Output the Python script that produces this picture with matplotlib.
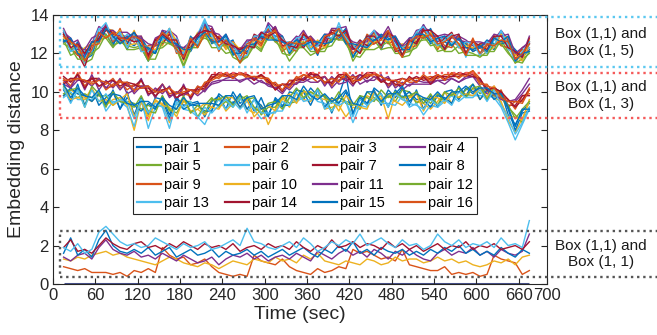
import numpy as np
import matplotlib
matplotlib.use("Agg")
import matplotlib.pyplot as plt
from matplotlib.patches import Rectangle

plt.rcParams['font.family'] = ['Liberation Sans', 'DejaVu Sans']

# sample times (sec) - one reading every 10 s
t_start, t_end = 15, 675

# MATLAB default colour order, pairs 1..16 cycle through it
pair_colors = ['#0072BD', '#D95319', '#EDB120', '#7E2F8E', '#77AC30', '#4DBEEE', '#A2142F']
pair_labels = [f'pair {k}' for k in range(1, 17)]

# ---------------- Box (1,1) and Box (1,5) ----------------
top_p1 = [13.1, 12.1, 12.6, 11.7, 11.9, 13.0, 13.4, 12.5, 13.1, 12.2,
          13.1, 12.3, 11.6, 12.6, 12.7, 13.3, 12.1, 12.1, 12.1, 12.8,
          13.5, 12.5, 12.8, 12.5, 12.7, 11.7, 11.9, 12.9, 12.5, 13.5,
          12.7, 12.7, 12.1, 12.8, 12.4, 12.6, 11.9, 12.9, 13.0, 12.9,
          13.3, 11.8, 12.5, 12.4, 13.1, 12.2, 13.0, 12.8, 11.8, 12.6,
          12.5, 13.4, 12.5, 12.8, 12.6, 12.4, 13.0, 12.0, 12.7, 12.0,
          12.5, 12.2, 13.1, 12.4, 12.1, 11.7, 12.5]
top_p2 = [12.6, 12.6, 12.3, 11.5, 12.6, 12.7, 13.5, 12.7, 12.6, 12.9,
          12.6, 12.9, 12.1, 12.0, 13.0, 12.5, 12.7, 11.8, 12.7, 12.4,
          13.2, 13.2, 12.1, 12.8, 12.1, 12.3, 12.3, 12.3, 13.0, 12.9,
          13.3, 12.1, 12.4, 12.3, 13.1, 12.2, 12.5, 12.4, 12.8, 13.4,
          12.6, 12.3, 12.1, 13.0, 12.7, 12.9, 12.5, 12.7, 12.4, 12.2,
          13.1, 12.9, 13.1, 12.2, 12.8, 12.6, 12.4, 12.6, 12.1, 12.3,
          12.0, 12.9, 12.6, 12.7, 11.5, 12.1, 12.3]
top_p3 = [13.0, 12.7, 11.9, 12.1, 12.2, 12.6, 13.3, 13.2, 12.7, 12.5,
          13.2, 12.2, 12.2, 12.4, 12.4, 13.1, 12.7, 11.6, 12.4, 13.1,
          13.0, 13.0, 12.8, 12.2, 12.5, 12.2, 12.0, 12.7, 12.3, 13.3,
          13.1, 12.8, 11.9, 12.6, 12.5, 12.9, 12.2, 12.3, 13.3, 12.9,
          13.1, 12.5, 12.0, 12.5, 13.0, 12.9, 12.6, 12.3, 12.5, 12.3,
          13.0, 12.8, 13.0, 12.9, 12.1, 12.9, 12.5, 12.5, 12.2, 12.5,
          12.2, 12.8, 12.4, 12.8, 12.0, 11.7, 12.7]
top_p4 = [13.3, 12.5, 12.7, 11.9, 12.5, 13.4, 13.2, 13.2, 12.9, 12.9,
          12.9, 12.9, 11.9, 12.8, 13.0, 13.2, 12.9, 11.9, 12.8, 12.8,
          13.7, 13.1, 13.0, 12.6, 12.6, 12.0, 12.6, 12.8, 12.6, 13.6,
          13.2, 12.9, 12.2, 12.7, 13.2, 12.6, 12.5, 13.0, 13.0, 13.4,
          12.9, 12.6, 12.5, 12.7, 13.2, 12.9, 12.9, 12.9, 12.3, 12.5,
          13.2, 13.3, 13.2, 12.6, 12.9, 12.8, 12.9, 12.7, 12.4, 12.3,
          12.6, 12.7, 13.2, 12.7, 12.1, 11.9, 12.9]
top_p5 = [12.7, 11.9, 12.1, 11.5, 11.7, 12.7, 12.8, 12.3, 12.8, 12.2,
          12.2, 12.3, 11.6, 12.2, 12.3, 12.6, 12.2, 11.3, 12.2, 12.6,
          12.8, 12.6, 12.4, 12.0, 12.1, 11.5, 11.9, 12.5, 12.2, 12.8,
          12.8, 12.0, 11.9, 12.3, 12.3, 11.9, 12.1, 12.3, 12.4, 13.0,
          12.5, 11.9, 11.8, 12.3, 12.7, 12.2, 12.3, 12.3, 11.8, 11.9,
          12.6, 12.7, 12.7, 12.1, 12.2, 12.5, 12.0, 12.1, 12.0, 11.8,
          12.1, 12.1, 12.7, 12.1, 11.5, 11.7, 12.0]
top_p6 = [12.9, 12.2, 12.5, 11.5, 12.4, 13.3, 12.9, 13.0, 12.6, 13.0,
          12.7, 12.7, 12.3, 12.1, 12.9, 12.6, 12.8, 12.0, 12.3, 13.0,
          13.8, 12.8, 12.2, 12.8, 12.4, 11.7, 12.6, 12.3, 12.8, 13.3,
          12.8, 12.6, 12.6, 12.1, 12.9, 12.4, 12.6, 12.7, 12.6, 13.6,
          12.7, 12.3, 12.7, 12.3, 12.9, 12.8, 12.7, 12.8, 12.2, 12.1,
          12.9, 13.5, 12.6, 12.7, 12.8, 12.5, 12.8, 11.8, 12.6, 12.4,
          12.0, 12.7, 13.1, 12.2, 12.0, 12.2, 12.3]
top_p7 = [13.0, 12.7, 12.0, 11.3, 12.5, 12.8, 13.4, 13.0, 12.7, 12.5,
          13.1, 12.6, 11.8, 12.7, 12.5, 13.0, 12.3, 12.3, 12.3, 12.9,
          13.1, 13.3, 12.7, 12.3, 12.6, 12.1, 12.0, 13.0, 12.8, 12.8,
          13.4, 12.4, 12.5, 12.6, 12.3, 12.8, 12.4, 12.4, 13.2, 13.2,
          12.6, 12.2, 12.7, 12.4, 12.5, 12.8, 13.2, 12.1, 12.2, 12.7,
          12.6, 13.3, 13.0, 12.4, 12.8, 13.1, 12.3, 12.3, 12.3, 12.5,
          12.5, 12.4, 13.0, 12.8, 11.7, 12.3, 12.5]
top_p8 = [12.7, 12.5, 12.4, 12.2, 12.0, 13.1, 13.0, 12.4, 13.2, 12.6,
          12.4, 12.8, 12.2, 12.0, 13.2, 12.7, 12.5, 11.7, 12.9, 12.4,
          13.6, 12.7, 12.6, 12.9, 11.9, 12.2, 12.1, 12.4, 13.0, 13.2,
          12.9, 12.9, 12.0, 12.5, 12.9, 12.2, 12.5, 13.0, 12.7, 12.8,
          13.1, 11.8, 12.4, 12.9, 12.6, 13.0, 12.8, 12.6, 11.9, 12.8,
          12.9, 12.8, 13.3, 12.5, 12.3, 12.9, 12.7, 12.5, 12.1, 12.3,
          12.7, 12.5, 12.5, 12.6, 12.2, 11.8, 12.2]
top_p9 = [13.2, 12.3, 11.9, 12.1, 12.4, 12.5, 13.3, 12.6, 13.3, 12.3,
          12.9, 12.1, 12.4, 12.4, 12.6, 13.2, 12.0, 12.2, 12.6, 12.5,
          13.4, 12.6, 12.9, 12.4, 12.5, 11.8, 12.5, 12.7, 12.4, 13.3,
          12.6, 12.8, 12.3, 12.1, 13.0, 12.7, 12.1, 12.7, 13.1, 12.7,
          13.0, 12.4, 12.1, 12.8, 13.1, 12.3, 13.1, 12.2, 12.4, 12.3,
          12.4, 13.2, 12.7, 12.9, 12.4, 12.3, 12.9, 12.0, 12.8, 11.9,
          12.4, 12.9, 12.4, 12.3, 11.9, 12.2, 12.1]
top_p10 = [12.8, 12.6, 12.0, 12.3, 12.5, 12.6, 12.9, 12.9, 13.2, 12.4,
           12.5, 12.5, 12.3, 12.2, 12.6, 13.3, 12.6, 12.1, 12.2, 12.6,
           12.9, 12.8, 12.7, 12.3, 12.6, 12.2, 11.8, 12.8, 12.6, 12.9,
           13.2, 12.2, 12.5, 12.6, 12.6, 12.3, 12.7, 12.3, 12.7, 13.2,
           12.8, 12.3, 12.6, 12.2, 12.6, 12.7, 12.6, 12.8, 12.3, 12.1,
           12.8, 12.9, 13.1, 12.3, 12.7, 13.0, 12.4, 12.4, 12.3, 12.4,
           12.1, 12.3, 13.0, 12.8, 11.9, 11.6, 12.6]
top_p11 = [13.1, 12.8, 12.2, 12.2, 12.8, 13.0, 13.5, 12.8, 13.1, 13.1,
           12.8, 12.8, 12.5, 12.4, 13.2, 13.1, 12.4, 12.3, 12.6, 13.0,
           13.5, 13.4, 12.6, 13.0, 12.3, 12.2, 12.7, 12.7, 13.1, 13.1,
           13.4, 12.6, 12.5, 12.9, 12.7, 12.9, 12.5, 12.6, 13.3, 13.3,
           13.4, 12.2, 12.6, 12.6, 13.2, 12.8, 13.4, 12.6, 12.4, 12.8,
           12.8, 13.5, 12.9, 12.9, 13.0, 12.9, 12.7, 12.6, 12.6, 12.6,
           12.5, 13.0, 12.9, 13.0, 12.0, 12.3, 12.6]
top_p12 = [12.5, 12.3, 11.7, 11.7, 12.0, 12.3, 13.0, 12.4, 12.6, 12.4,
           12.3, 12.4, 11.7, 11.7, 12.6, 12.5, 12.3, 11.4, 12.3, 12.3,
           13.0, 12.3, 12.3, 12.5, 11.8, 11.6, 11.8, 12.4, 12.1, 13.0,
           12.6, 12.3, 11.6, 12.1, 12.6, 12.1, 12.1, 12.1, 12.8, 12.7,
           12.7, 11.6, 12.2, 12.2, 12.2, 12.4, 12.6, 12.0, 12.0, 12.1,
           12.3, 12.9, 12.4, 12.5, 12.1, 12.1, 12.4, 11.9, 11.9, 11.9,
           11.9, 12.5, 12.5, 12.0, 11.6, 11.5, 12.1]
top_p13 = [13.2, 12.1, 12.3, 12.1, 12.1, 13.2, 13.6, 12.7, 13.1, 12.3,
           13.0, 12.1, 12.1, 12.6, 12.7, 13.3, 12.1, 12.0, 12.8, 12.5,
           13.7, 13.0, 12.2, 12.8, 12.5, 11.8, 11.9, 12.9, 12.9, 13.4,
           12.8, 12.8, 12.1, 12.8, 12.9, 12.2, 12.4, 12.9, 12.8, 13.4,
           12.8, 12.4, 12.1, 12.8, 13.2, 12.4, 13.2, 12.4, 12.3, 12.5,
           13.1, 13.4, 12.8, 12.4, 12.7, 13.0, 12.3, 12.6, 12.5, 11.9,
           12.6, 12.4, 13.2, 12.4, 11.6, 12.1, 12.6]
top_p14 = [13.0, 12.3, 12.5, 12.0, 12.6, 12.7, 13.2, 13.1, 12.8, 12.8,
           12.6, 12.7, 11.9, 12.7, 13.0, 12.7, 12.7, 11.7, 12.6, 13.0,
           13.2, 13.1, 12.8, 12.5, 12.4, 12.2, 12.4, 12.3, 13.1, 12.9,
           13.1, 12.7, 12.4, 12.3, 13.0, 12.7, 12.0, 12.8, 13.1, 12.9,
           13.2, 12.3, 12.0, 12.9, 12.9, 12.4, 13.1, 12.8, 11.9, 12.7,
           12.5, 13.2, 13.2, 12.9, 12.2, 12.9, 13.0, 12.0, 12.6, 12.4,
           12.2, 12.9, 12.9, 12.3, 12.1, 11.8, 12.8]
top_p15 = [12.6, 12.8, 12.0, 11.8, 12.6, 12.6, 13.3, 12.9, 12.5, 12.8,
           13.1, 12.4, 12.3, 12.0, 12.9, 12.6, 12.5, 12.2, 12.2, 12.8,
           13.1, 12.6, 12.6, 13.0, 12.0, 12.0, 12.4, 12.5, 12.9, 12.7,
           12.7, 12.6, 12.4, 12.7, 12.4, 12.6, 12.6, 12.5, 12.6, 13.3,
           12.5, 12.5, 12.4, 12.3, 12.7, 12.9, 12.7, 12.9, 12.2, 12.2,
           13.0, 13.0, 12.6, 12.8, 12.9, 12.4, 12.8, 12.3, 12.2, 12.4,
           12.1, 12.8, 12.6, 12.9, 11.6, 12.0, 12.1]
top_p16 = [12.9, 12.6, 12.4, 11.6, 12.2, 13.1, 12.8, 13.1, 12.8, 12.7,
           12.9, 12.7, 11.7, 12.5, 13.1, 12.8, 12.2, 11.8, 12.8, 12.3,
           13.0, 13.1, 12.4, 12.7, 12.2, 11.5, 12.3, 12.8, 12.5, 13.0,
           13.2, 12.3, 12.6, 12.5, 12.5, 12.8, 12.0, 12.9, 13.0, 13.3,
           12.7, 12.0, 12.5, 12.8, 12.5, 12.7, 13.2, 12.3, 11.8, 12.6,
           12.9, 12.8, 13.0, 12.5, 12.6, 12.9, 12.5, 11.9, 12.7, 12.0,
           12.5, 12.4, 12.7, 12.6, 11.7, 12.0, 12.5]

# ---------------- Box (1,1) and Box (1,3) ----------------
mid_p1 = [10.1, 9.5, 10.4, 9.3, 10.2, 9.3, 9.7, 10.0, 9.1, 10.0,
          8.8, 9.7, 8.8, 9.7, 9.6, 8.6, 9.7, 9.3, 9.4, 9.5,
          8.7, 9.5, 9.8, 9.1, 10.0, 9.4, 9.7, 9.0, 9.7, 8.8,
          9.6, 9.2, 10.0, 9.9, 9.6, 10.2, 9.8, 9.8, 8.9, 9.8,
          10.9, 8.8, 9.8, 9.4, 10.1, 9.3, 10.1, 9.7, 10.2, 9.3,
          10.1, 9.1, 9.8, 9.2, 10.0, 10.1, 9.6, 10.2, 9.9, 10.3,
          9.6, 10.2, 10.0, 8.8, 8.3, 9.0, 9.4]
mid_p2 = [10.7, 10.3, 11.0, 10.3, 10.8, 10.3, 10.4, 10.7, 10.2, 10.4,
          10.0, 10.6, 10.0, 10.1, 10.1, 10.2, 9.6, 10.2, 10.1, 10.0,
          10.4, 10.8, 10.7, 11.0, 10.8, 11.0, 10.7, 10.8, 10.8, 10.7,
          10.1, 10.4, 10.3, 10.8, 10.6, 11.0, 10.9, 10.4, 10.7, 10.6,
          10.9, 10.5, 10.9, 10.8, 11.0, 10.8, 10.3, 10.6, 10.4, 10.7,
          10.7, 10.7, 10.8, 10.7, 10.9, 10.9, 10.9, 10.9, 11.1, 10.7,
          10.0, 10.3, 9.8, 9.6, 9.1, 9.8, 9.9]
mid_p3 = [9.8, 10.1, 9.9, 9.7, 9.5, 10.0, 9.3, 9.6, 9.7, 9.3,
          8.0, 9.5, 8.5, 9.5, 9.4, 8.4, 9.4, 9.6, 8.9, 9.1,
          8.8, 9.2, 9.7, 9.0, 9.4, 9.7, 9.1, 8.9, 9.3, 8.3,
          9.1, 9.7, 9.2, 9.9, 9.6, 9.5, 10.1, 9.1, 9.2, 9.3,
          8.7, 9.2, 9.1, 9.8, 9.6, 9.8, 8.6, 9.9, 9.6, 9.8,
          9.5, 9.4, 9.1, 9.5, 10.0, 9.4, 10.0, 9.8, 10.2, 9.6,
          10.0, 9.7, 9.5, 8.5, 7.9, 8.6, 9.5]
mid_p4 = [10.4, 10.2, 10.9, 10.1, 10.9, 10.1, 10.6, 10.2, 10.7, 9.9,
          10.1, 10.7, 9.8, 10.2, 9.9, 10.3, 9.5, 10.4, 9.6, 10.3,
          10.0, 10.5, 10.6, 10.6, 10.6, 10.6, 10.7, 10.4, 10.6, 10.3,
          10.2, 10.4, 10.1, 10.5, 10.5, 10.7, 10.9, 10.3, 10.8, 10.4,
          10.5, 10.9, 10.4, 10.6, 10.6, 10.9, 10.2, 10.6, 10.1, 10.4,
          10.4, 10.4, 10.4, 10.6, 10.4, 10.7, 10.5, 10.7, 10.8, 10.3,
          9.9, 9.8, 9.7, 9.5, 9.6, 10.1, 10.7]
mid_p5 = [10.3, 9.9, 9.7, 9.9, 9.7, 9.8, 9.8, 9.3, 9.6, 9.5,
          9.4, 9.1, 9.3, 9.1, 9.8, 9.1, 8.9, 9.5, 9.5, 8.7,
          9.3, 9.7, 9.2, 9.5, 9.2, 9.8, 9.6, 9.7, 8.8, 9.2,
          9.2, 9.8, 9.4, 9.5, 10.1, 9.6, 10.2, 9.7, 9.0, 9.7,
          9.5, 9.4, 9.1, 10.0, 9.7, 9.4, 9.8, 9.5, 10.1, 10.0,
          9.4, 9.7, 9.4, 9.9, 9.5, 9.9, 9.7, 10.1, 10.4, 9.9,
          10.2, 9.8, 9.7, 9.2, 8.8, 8.4, 9.2]
mid_p6 = [9.7, 10.0, 9.6, 9.6, 9.6, 10.0, 9.0, 9.5, 9.5, 9.2,
          8.2, 9.6, 8.1, 9.2, 9.3, 8.5, 9.4, 9.1, 9.0, 8.7,
          8.3, 9.1, 9.6, 9.1, 9.5, 9.1, 9.5, 9.1, 8.6, 8.8,
          9.0, 9.0, 9.7, 9.5, 9.7, 9.9, 9.5, 9.4, 9.0, 9.5,
          9.5, 8.4, 9.3, 9.2, 9.9, 9.4, 9.4, 9.3, 9.8, 9.2,
          9.4, 8.8, 9.3, 9.2, 9.5, 9.8, 9.5, 9.8, 9.8, 9.8,
          9.8, 9.7, 9.2, 8.4, 7.5, 8.3, 9.1]
mid_p7 = [10.8, 10.5, 10.9, 10.2, 10.7, 10.7, 10.2, 10.3, 10.6, 10.3,
          10.3, 10.6, 9.9, 10.0, 10.4, 9.8, 9.9, 10.3, 9.7, 10.2,
          10.3, 10.9, 10.9, 10.8, 11.0, 10.9, 10.9, 10.7, 10.9, 10.5,
          10.4, 10.0, 10.6, 10.6, 10.7, 11.0, 10.7, 10.8, 10.4, 10.8,
          10.6, 10.7, 10.9, 10.7, 11.0, 10.6, 10.4, 10.6, 10.7, 10.6,
          10.8, 10.6, 10.7, 10.9, 10.7, 10.8, 10.8, 11.0, 10.9, 10.6,
          10.2, 9.9, 10.0, 9.3, 9.3, 9.8, 9.8]
mid_p8 = [9.8, 10.2, 9.9, 9.8, 9.5, 9.9, 9.3, 10.1, 9.1, 9.7,
          9.3, 9.0, 9.4, 9.1, 9.7, 8.8, 9.7, 9.1, 9.3, 9.3,
          9.0, 9.0, 9.9, 9.6, 9.4, 9.9, 9.1, 9.6, 9.3, 8.7,
          9.7, 9.3, 9.3, 10.1, 10.0, 9.3, 10.1, 9.2, 9.7, 9.4,
          10.0, 8.9, 9.7, 9.3, 10.2, 9.9, 9.2, 10.1, 9.7, 10.0,
          9.6, 9.6, 9.2, 9.8, 9.7, 9.4, 10.3, 9.8, 10.4, 9.6,
          10.1, 9.6, 9.9, 9.1, 8.0, 8.9, 9.0]
mid_p9 = [10.5, 10.7, 10.6, 10.6, 10.5, 10.7, 10.1, 10.4, 10.6, 10.1,
          10.4, 10.3, 10.3, 9.7, 10.4, 9.9, 10.0, 9.9, 9.8, 10.3,
          10.1, 10.7, 10.9, 10.8, 10.9, 10.9, 10.9, 10.6, 10.9, 10.4,
          10.5, 10.1, 10.6, 10.4, 10.9, 10.8, 10.5, 10.8, 10.3, 10.9,
          10.7, 10.8, 10.6, 10.9, 10.8, 10.5, 10.7, 10.3, 10.7, 10.5,
          10.5, 10.8, 10.5, 10.9, 10.6, 11.0, 10.7, 11.0, 11.0, 10.4,
          10.4, 9.9, 10.1, 9.2, 9.5, 9.5, 10.2]
mid_p10 = [10.2, 9.6, 9.7, 9.6, 10.2, 9.5, 9.6, 9.3, 9.6, 9.9,
           8.7, 9.5, 8.7, 9.6, 9.3, 9.2, 8.7, 9.6, 9.0, 9.1,
           9.4, 9.2, 9.1, 9.7, 9.7, 9.2, 9.6, 8.7, 9.1, 9.3,
           9.0, 9.6, 9.9, 9.4, 10.0, 10.0, 9.7, 9.6, 9.6, 9.0,
           9.8, 9.4, 9.2, 9.1, 10.0, 9.6, 9.9, 9.5, 9.3, 9.7,
           9.9, 9.0, 9.7, 9.7, 9.4, 10.0, 9.7, 9.9, 9.8, 10.2,
           9.7, 10.3, 9.4, 8.7, 8.7, 8.5, 9.6]
mid_p11 = [10.6, 10.2, 10.6, 10.6, 10.3, 10.7, 10.2, 10.6, 10.1, 10.5,
           9.9, 10.3, 10.3, 9.7, 10.4, 9.7, 10.0, 9.8, 10.1, 9.8,
           10.1, 10.4, 10.5, 10.7, 10.8, 10.5, 10.7, 10.7, 10.5, 10.4,
           10.2, 9.9, 10.4, 10.4, 10.7, 10.5, 10.5, 10.8, 10.2, 10.6,
           10.7, 10.3, 10.9, 10.5, 10.8, 10.6, 10.8, 10.2, 10.5, 10.3,
           10.6, 10.5, 10.5, 10.6, 10.6, 10.7, 10.5, 10.8, 10.8, 10.6,
           10.1, 9.9, 9.6, 9.5, 9.5, 9.9, 10.4]
mid_p12 = [9.9, 10.1, 10.2, 9.2, 10.3, 9.9, 9.2, 10.0, 9.5, 9.4,
           9.2, 9.8, 9.0, 8.9, 9.8, 9.0, 9.1, 9.8, 8.9, 9.3,
           8.9, 9.6, 9.6, 9.8, 9.3, 9.6, 9.8, 9.2, 8.9, 9.4,
           9.5, 9.1, 9.7, 10.2, 9.7, 10.0, 9.8, 9.8, 9.4, 10.0,
           9.4, 9.3, 9.8, 9.7, 9.5, 10.1, 9.7, 10.0, 9.7, 9.8,
           10.0, 9.4, 9.9, 9.3, 10.0, 9.8, 10.2, 9.7, 10.2, 10.3,
           9.6, 10.2, 9.8, 9.3, 8.6, 9.1, 9.5]
mid_p13 = [10.2, 9.4, 10.1, 9.2, 10.1, 9.5, 9.9, 9.4, 9.6, 9.5,
           8.6, 9.6, 8.9, 9.4, 9.2, 8.1, 9.5, 9.2, 9.5, 8.6,
           9.2, 8.9, 9.3, 9.6, 9.2, 9.7, 8.9, 9.6, 8.9, 8.9,
           8.9, 9.5, 9.3, 10.0, 9.5, 9.6, 10.1, 9.1, 9.5, 9.3,
           9.5, 8.7, 9.6, 9.3, 9.6, 9.9, 9.2, 9.9, 9.6, 9.4,
           9.3, 9.1, 9.6, 9.3, 9.6, 9.3, 10.0, 9.7, 9.7, 10.1,
           9.5, 10.1, 9.3, 8.7, 7.8, 8.4, 9.2]
mid_p14 = [10.4, 10.7, 10.7, 10.5, 10.7, 10.3, 10.5, 10.6, 10.3, 10.5,
           10.4, 10.2, 10.2, 9.8, 10.1, 10.2, 9.7, 9.9, 10.1, 10.1,
           10.2, 10.7, 11.0, 10.9, 10.7, 11.0, 10.9, 10.6, 10.9, 10.6,
           10.1, 10.4, 10.4, 10.7, 10.6, 10.9, 10.9, 10.5, 10.5, 10.9,
           10.9, 10.4, 10.7, 11.0, 11.0, 10.5, 10.7, 10.4, 10.3, 10.8,
           10.5, 10.8, 10.4, 10.8, 10.8, 10.8, 11.0, 10.9, 10.8, 10.7,
           10.1, 10.2, 10.0, 9.6, 9.2, 9.6, 10.1]
mid_p15 = [10.4, 9.7, 10.2, 9.8, 9.7, 10.1, 9.4, 9.9, 9.8, 9.4,
           9.3, 9.5, 9.5, 9.2, 9.7, 9.3, 9.1, 9.7, 9.3, 9.4,
           9.4, 9.4, 9.3, 9.8, 9.8, 9.2, 9.7, 9.8, 9.1, 9.3,
           9.4, 9.8, 9.8, 9.6, 10.3, 9.8, 9.6, 9.9, 9.5, 9.7,
           10.1, 9.4, 9.3, 10.0, 10.0, 9.5, 9.9, 9.9, 10.3, 9.5,
           9.9, 9.7, 9.6, 10.0, 9.6, 10.0, 10.0, 10.3, 10.0, 10.2,
           10.2, 9.9, 9.9, 9.2, 8.2, 9.1, 9.1]
mid_p16 = [10.6, 10.6, 10.7, 10.6, 10.4, 10.6, 10.5, 10.3, 10.5, 10.5,
           10.1, 10.2, 10.3, 10.0, 10.0, 10.2, 9.9, 10.0, 10.1, 9.9,
           10.5, 10.6, 10.8, 11.0, 10.7, 11.0, 10.8, 10.8, 10.7, 10.7,
           10.3, 10.4, 10.2, 10.7, 10.9, 10.7, 10.8, 10.5, 10.7, 10.5,
           11.0, 10.6, 10.6, 10.9, 10.9, 10.8, 10.6, 10.6, 10.4, 10.7,
           10.5, 10.9, 10.6, 10.9, 10.6, 11.0, 10.9, 10.8, 11.1, 10.5,
           10.3, 10.2, 9.7, 9.5, 9.5, 9.4, 10.1]

# ---------------- Box (1,1) and Box (1,1) ----------------
bot_blue = [1.6, 2.4, 1.5, 1.8, 1.4, 2.3, 2.8, 2.0, 1.7, 1.6,
            1.8, 1.6, 1.9, 1.5, 1.7, 1.9, 1.4, 1.6, 1.8, 1.5,
            1.6, 1.8, 1.4, 1.7, 1.5, 1.6, 1.8, 1.5, 1.7, 1.4,
            1.6, 1.8, 1.5, 1.7, 1.9, 1.6, 1.4, 1.8, 1.6, 2.0,
            1.7, 2.2, 1.6, 1.8, 1.5, 1.9, 1.7, 1.6, 1.8, 1.5,
            1.7, 1.5, 1.8, 1.6, 1.9, 1.7, 2.0, 1.6, 1.8, 1.5,
            1.7, 1.5, 1.9, 1.6, 1.4, 1.8, 1.6]
bot_orange = [0.9, 0.8, 0.7, 0.8, 0.6, 0.6, 0.6, 0.5, 0.6, 0.4,
              0.7, 0.6, 0.8, 0.6, 1.9, 1.5, 1.3, 1.4, 1.0, 1.1,
              1.3, 0.9, 0.6, 0.5, 0.4, 0.5, 0.4, 1.5, 1.2, 1.1,
              1.0, 1.3, 0.9, 0.7, 0.6, 0.5, 0.8, 0.6, 0.7, 0.9,
              0.8, 1.8, 1.6, 1.7, 1.5, 1.3, 1.4, 1.2, 1.8, 1.0,
              0.9, 0.8, 0.7, 0.7, 0.9, 0.5, 0.6, 0.5, 0.6, 0.4,
              0.5, 1.5, 1.3, 1.2, 1.1, 0.5, 0.7]
bot_yellow = [1.3, 1.2, 1.4, 1.3, 1.5, 1.6, 1.7, 1.5, 1.6, 1.4,
              1.3, 1.2, 1.1, 1.0, 1.2, 1.4, 1.3, 1.1, 1.0, 0.9,
              1.1, 1.0, 0.8, 1.0, 1.2, 1.1, 1.0, 1.3, 1.2, 1.1,
              1.4, 1.2, 1.3, 1.1, 1.5, 1.3, 1.6, 1.2, 1.1, 1.0,
              1.2, 1.1, 1.0, 1.3, 1.2, 1.0, 1.1, 1.4, 1.2, 1.3,
              1.3, 1.1, 1.2, 1.4, 1.2, 1.3, 1.1, 1.2, 1.0, 0.9,
              1.0, 1.2, 1.1, 1.3, 1.0, 1.4, 1.5]
bot_purple = [1.4, 1.2, 1.5, 1.6, 1.3, 1.9, 2.3, 1.8, 1.6, 1.5,
              1.7, 1.4, 1.5, 1.3, 1.6, 1.4, 1.2, 1.5, 1.3, 1.1,
              1.2, 1.4, 1.0, 1.3, 1.5, 1.4, 1.6, 1.3, 1.5, 1.2,
              1.4, 1.5, 1.3, 1.6, 1.4, 1.2, 1.7, 1.5, 1.3, 1.6,
              1.8, 1.5, 1.7, 1.4, 1.8, 1.6, 1.3, 1.7, 1.5, 1.8,
              1.5, 1.3, 1.2, 1.6, 1.8, 1.5, 1.7, 1.6, 1.9, 1.5,
              1.7, 1.4, 1.8, 1.6, 1.5, 1.7, 2.6]
bot_lightblue = [1.9, 1.7, 2.1, 1.6, 1.8, 2.7, 3.0, 2.6, 2.2, 2.0,
                 2.1, 1.9, 2.0, 2.4, 2.2, 2.0, 1.8, 2.1, 1.9, 2.0,
                 2.2, 1.8, 1.9, 2.1, 2.3, 2.0, 2.9, 2.2, 2.1, 1.9,
                 1.8, 2.0, 2.2, 1.9, 2.4, 2.1, 1.7, 1.9, 2.2, 2.0,
                 2.3, 2.1, 2.6, 2.0, 2.2, 2.4, 2.1, 1.9, 2.3, 2.0,
                 2.1, 1.8, 2.0, 2.6, 2.2, 2.0, 2.3, 1.9, 2.1, 2.0,
                 2.2, 1.9, 2.4, 2.0, 2.1, 1.9, 3.3]
bot_darkred = [1.9, 2.3, 1.7, 1.8, 1.6, 2.0, 2.4, 2.1, 1.9, 1.8,
               2.1, 2.2, 1.9, 2.0, 1.8, 2.1, 1.9, 2.2, 2.0, 1.8,
               2.1, 1.9, 2.0, 1.8, 2.1, 1.7, 1.9, 2.0, 1.8, 2.1,
               1.9, 2.0, 1.8, 2.2, 1.9, 1.7, 2.0, 1.8, 2.3, 1.9,
               2.0, 2.2, 1.9, 2.1, 2.0, 1.8, 2.2, 1.9, 2.1, 1.8,
               2.0, 1.7, 1.9, 2.1, 1.8, 2.0, 1.9, 2.2, 1.8, 2.0,
               1.9, 2.1, 1.8, 1.9, 2.0, 1.8, 2.2]
bot_zero = [0.0, 0.0]

top_group = [top_p1, top_p2, top_p3, top_p4, top_p5, top_p6, top_p7, top_p8,
             top_p9, top_p10, top_p11, top_p12, top_p13, top_p14, top_p15, top_p16]
mid_group = [mid_p1, mid_p2, mid_p3, mid_p4, mid_p5, mid_p6, mid_p7, mid_p8,
             mid_p9, mid_p10, mid_p11, mid_p12, mid_p13, mid_p14, mid_p15, mid_p16]
bot_group = [(bot_orange, pair_colors[1]), (bot_yellow, pair_colors[2]),
             (bot_purple, pair_colors[3]), (bot_blue, pair_colors[0]),
             (bot_darkred, pair_colors[6]), (bot_lightblue, pair_colors[5])]

box_labels = ['Box (1,1) and\nBox (1, 5)', 'Box (1,1) and\nBox (1, 3)', 'Box (1,1) and\nBox (1, 1)']
box_ranges = [(11.28, 13.89), (8.66, 10.97), (0.36, 2.76)]
box_colors = ['#5bc8f0', '#f55a5a', '#555555']


def times(vals):
    return np.linspace(t_start, t_end, len(vals))


fig = plt.figure(figsize=(6.57, 3.35), dpi=100)
ax = fig.add_axes([53 / 657, 1 - 284 / 335, 494 / 657, 269 / 335])

lw = 1.0
for k, v in enumerate(top_group):
    ax.plot(times(v), v, color=pair_colors[k % 7], lw=lw)
handles = []
for k, v in enumerate(mid_group):
    h, = ax.plot(times(v), v, color=pair_colors[k % 7], lw=lw, label=pair_labels[k])
    handles.append(h)
for v, c in bot_group:
    ax.plot(times(v), v, color=c, lw=lw)
ax.plot([t_start, t_end], bot_zero, color='#46508a', lw=2.2, solid_capstyle='butt', zorder=1.5)

# dotted boxes run past the right edge of the axes
for (y0, y1), c, lab in zip(box_ranges, box_colors, box_labels):
    ax.add_patch(Rectangle((10, y0), 900, y1 - y0, fill=False, ec=c, ls=(0, (1, 1.6)),
                           lw=1.7, clip_on=False, zorder=3))
    ax.text(776, (y0 + y1) / 2, lab, ha='center', va='center', fontsize=11,
            color='#1a1a1a', clip_on=False, linespacing=1.25)

ax.set_xlim(0, 700)
ax.set_ylim(0, 14)
ax.set_xticks([0, 60, 120, 180, 240, 300, 360, 420, 480, 540, 600, 660, 700])
ax.set_yticks([0, 2, 4, 6, 8, 10, 12, 14])
ax.tick_params(direction='in', top=True, right=True, length=4, width=0.8,
               labelsize=12, colors='#262626', pad=3)
for s in ax.spines.values():
    s.set_color('#262626')
    s.set_linewidth(0.8)
ax.set_xlabel('Time (sec)', fontsize=14, color='#262626', labelpad=2)
ax.set_ylabel('Embedding distance', fontsize=14, color='#262626', labelpad=4)

# legend is filled row by row (pair 1..4 on the first row)
ncol = 4
order = [r * ncol + c for c in range(ncol) for r in range(len(handles) // ncol)]
leg = ax.legend([handles[i] for i in order], [pair_labels[i] for i in order],
                ncol=ncol, loc='upper left', bbox_to_anchor=(0.162, 0.545),
                fontsize=10.5, frameon=True, fancybox=False, handlelength=1.65,
                handletextpad=0.25, columnspacing=1.05, labelspacing=0.3,
                borderpad=0.25, borderaxespad=0)
leg.get_frame().set_edgecolor('#262626')
leg.get_frame().set_linewidth(0.8)
leg.get_frame().set_alpha(1)
for line in leg.get_lines():
    line.set_linewidth(1.6)

fig.savefig('out.png', dpi=100)
